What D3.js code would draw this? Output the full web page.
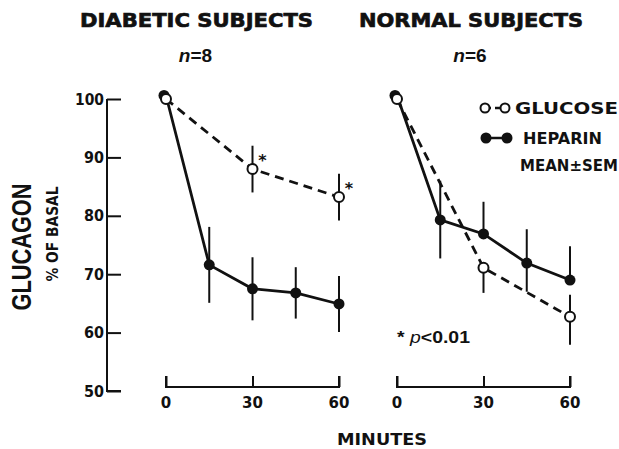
<!DOCTYPE html>
<html>
<head>
<meta charset="utf-8">
<script src="https://cdn.jsdelivr.net/npm/d3@7"></script>
<style>
  body { margin: 0; background: #fff; }
  text { font-family: "Liberation Sans", Arial, sans-serif; fill: #111; }
  .heavy { font-family: "DejaVu Sans", sans-serif; font-weight: bold; }
  .title { stroke: #111; stroke-width: 0.7px; }
</style>
</head>
<body>
<div id="chart"></div>
<script>
// values (glucagon, % of basal)
var panels = ["DIABETIC SUBJECTS", "NORMAL SUBJECTS"];
var nLabels = ["8", "6"];
var glucoseTimes = [0, 30, 60];
var heparinTimes = [0, 15, 30, 45, 60];
var yTicks = [50, 60, 70, 80, 90, 100];
var xTicks = [0, 30, 60];

// diabetic
var diabGlucose = [100, 88, 83.2];
var diabGlucoseUp = [0, 4, 4];
var diabGlucoseDown = [0, 4, 4];
var diabGlucoseSig = [false, true, true];
var diabHeparin = [100.6, 71.6, 67.5, 66.8, 64.9];
var diabHeparinUp = [0, 6.5, 5.4, 4.4, 4.8];
var diabHeparinDown = [0, 6.5, 5.4, 4.4, 4.8];

// normal
var normGlucose = [100, 71.1, 62.7];
var normGlucoseUp = [0, 0, 3.8];
var normGlucoseDown = [0, 4.3, 4.8];
var normGlucoseSig = [false, false, false];
var normHeparin = [100.6, 79.3, 76.9, 71.9, 69];
var normHeparinUp = [0, 6.7, 5.5, 5.8, 5.8];
var normHeparinDown = [0, 6.6, 0, 4.9, 0];

var GC = {};

GC.series = function(times, vals, up, down, sig) {
    return times.map(function(t, i) {
        return {t: t, v: vals[i], up: up[i], down: down[i], sig: sig ? sig[i] : false};
    });
};

GC.draw = function() {
    let width = 619, height = 449;
    let svg = d3.select("#chart").append("svg")
        .attr("width", width)
        .attr("height", height);

    let y = d3.scaleLinear().domain([50, 100]).range([391, 99]);
    let xs = [
        d3.scaleLinear().domain([0, 60]).range([166, 339]),
        d3.scaleLinear().domain([0, 60]).range([397, 570])
    ];

    let data = [
        {
            glucose: GC.series(glucoseTimes, diabGlucose, diabGlucoseUp, diabGlucoseDown, diabGlucoseSig),
            heparin: GC.series(heparinTimes, diabHeparin, diabHeparinUp, diabHeparinDown)
        },
        {
            glucose: GC.series(glucoseTimes, normGlucose, normGlucoseUp, normGlucoseDown, normGlucoseSig),
            heparin: GC.series(heparinTimes, normHeparin, normHeparinUp, normHeparinDown)
        }
    ];

    // y axis (ticks point inward)
    let yAxis = svg.append("g")
        .attr("transform", "translate(107,0)")
        .call(d3.axisRight(y).tickValues(yTicks).tickSize(14).tickFormat(""));
    yAxis.select(".domain").attr("d", "M0," + y(100) + "V" + y(50) + "H14");
    yAxis.selectAll("line, path").attr("stroke", "#111").attr("stroke-width", 2);

    svg.append("g").selectAll("text")
        .data(yTicks)
        .enter().append("text")
        .attr("class", "heavy")
        .attr("x", 104)
        .attr("y", (d) => y(d) + 5.5)
        .attr("text-anchor", "end")
        .attr("textLength", (d) => d === 100 ? 29 : 20)
        .attr("lengthAdjust", "spacingAndGlyphs")
        .style("font-size", "15px")
        .text((d) => d);

    // y labels
    svg.append("text")
        .attr("transform", "translate(31,247) rotate(-90)")
        .attr("text-anchor", "middle")
        .attr("textLength", 127)
        .attr("lengthAdjust", "spacingAndGlyphs")
        .style("font-size", "27px")
        .style("font-weight", "bold")
        .text("GLUCAGON");
    svg.append("text")
        .attr("class", "heavy")
        .attr("transform", "translate(58,234) rotate(-90)")
        .attr("text-anchor", "middle")
        .attr("textLength", 95)
        .attr("lengthAdjust", "spacingAndGlyphs")
        .style("font-size", "15px")
        .text("% OF BASAL");

    let line = function(x) {
        return d3.line().x((d) => x(d.t)).y((d) => y(d.v));
    };

    let titleSpan = [[80, 313], [359, 583]];

    data.forEach(function(p, k) {
        let x = xs[k];
        let g = svg.append("g");

        // title + n
        g.append("text")
            .attr("class", "heavy title")
            .attr("x", titleSpan[k][0])
            .attr("y", 27)
            .attr("textLength", titleSpan[k][1] - titleSpan[k][0])
            .attr("lengthAdjust", "spacingAndGlyphs")
            .style("font-size", "20px")
            .text(panels[k]);
        let nt = g.append("text")
            .attr("x", (titleSpan[k][0] + titleSpan[k][1]) / 2 - 1)
            .attr("y", 62)
            .attr("text-anchor", "middle")
            .style("font-size", "19px")
            .style("font-weight", "bold");
        nt.append("tspan").style("font-style", "italic").text("n");
        nt.append("tspan").text("=" + nLabels[k]);

        // bracket x axis
        let xa = g.append("g")
            .attr("transform", "translate(0,387)")
            .call(d3.axisTop(x).tickValues(xTicks).tickSize(11).tickFormat(""));
        xa.select(".domain").attr("d", "M" + x(0) + ",-11V0H" + x(60) + "V-11");
        xa.selectAll("line, path").attr("stroke", "#111").attr("stroke-width", 2);
        g.append("g").selectAll("text")
            .data(xTicks)
            .enter().append("text")
            .attr("class", "heavy")
            .attr("x", (d) => x(d))
            .attr("y", 408)
            .attr("text-anchor", "middle")
            .style("font-size", "15px")
            .text((d) => d);

        // error bars
        let bars = p.heparin.concat(p.glucose).filter((d) => d.up > 0 || d.down > 0);
        g.append("g").selectAll("line")
            .data(bars)
            .enter().append("line")
            .attr("x1", (d) => x(d.t))
            .attr("x2", (d) => x(d.t))
            .attr("y1", (d) => y(d.v + d.up))
            .attr("y2", (d) => y(d.v - d.down))
            .attr("stroke", "#111")
            .attr("stroke-width", 2);

        // lines
        g.append("path")
            .datum(p.heparin)
            .attr("d", line(x))
            .attr("fill", "none")
            .attr("stroke", "#111")
            .attr("stroke-width", 2.8);
        g.append("path")
            .datum(p.glucose)
            .attr("d", line(x))
            .attr("fill", "none")
            .attr("stroke", "#111")
            .attr("stroke-width", 2.8)
            .attr("stroke-dasharray", "9,6");

        // points
        g.append("g").selectAll("circle")
            .data(p.heparin)
            .enter().append("circle")
            .attr("cx", (d) => x(d.t) - (d.t === 0 ? 2 : 0))
            .attr("cy", (d) => y(d.v))
            .attr("r", 5.5)
            .style("fill", "#111");
        g.append("g").selectAll("circle")
            .data(p.glucose)
            .enter().append("circle")
            .attr("cx", (d) => x(d.t))
            .attr("cy", (d) => y(d.v))
            .attr("r", 5)
            .style("fill", "#fff")
            .attr("stroke", "#111")
            .attr("stroke-width", 2);

        // significance stars
        g.append("g").selectAll("text")
            .data(p.glucose.filter((d) => d.sig))
            .enter().append("text")
            .attr("class", "heavy")
            .attr("x", (d) => x(d.t) + 10)
            .attr("y", (d) => y(d.v) - 3)
            .attr("text-anchor", "middle")
            .style("font-size", "16px")
            .text("*");
    });

    // legend
    let lg = svg.append("g");
    lg.append("line").attr("x1", 485).attr("x2", 505).attr("y1", 108).attr("y2", 108)
        .attr("stroke", "#111").attr("stroke-width", 2.5).attr("stroke-dasharray", "6,4");
    lg.selectAll("circle.o").data([485, 505]).enter().append("circle")
        .attr("cx", (d) => d).attr("cy", 108).attr("r", 4.5)
        .style("fill", "#fff").attr("stroke", "#111").attr("stroke-width", 2);
    lg.append("line").attr("x1", 486).attr("x2", 507).attr("y1", 138).attr("y2", 138)
        .attr("stroke", "#111").attr("stroke-width", 2.5);
    lg.selectAll("circle.f").data([486, 507]).enter().append("circle")
        .attr("cx", (d) => d).attr("cy", 138).attr("r", 5.5)
        .style("fill", "#111");
    lg.append("text").attr("class", "heavy").attr("x", 515).attr("y", 114)
        .attr("textLength", 103).attr("lengthAdjust", "spacingAndGlyphs")
        .style("font-size", "16px").text("GLUCOSE");
    lg.append("text").attr("class", "heavy").attr("x", 523).attr("y", 144)
        .attr("textLength", 79).attr("lengthAdjust", "spacingAndGlyphs")
        .style("font-size", "16px").text("HEPARIN");
    lg.append("text").attr("class", "heavy").attr("x", 520).attr("y", 171)
        .attr("textLength", 98).attr("lengthAdjust", "spacingAndGlyphs")
        .style("font-size", "15px").text("MEAN±SEM");

    // p note
    let pn = svg.append("text").attr("x", 397).attr("y", 343)
        .attr("textLength", 73).attr("lengthAdjust", "spacingAndGlyphs")
        .style("font-size", "17px").style("font-weight", "bold");
    pn.append("tspan").text("* ");
    pn.append("tspan").style("font-style", "italic").style("font-weight", "normal").text("p");
    pn.append("tspan").text("<0.01");

    // x title
    svg.append("text")
        .attr("class", "heavy")
        .attr("x", 382)
        .attr("y", 445)
        .attr("text-anchor", "middle")
        .attr("textLength", 90)
        .attr("lengthAdjust", "spacingAndGlyphs")
        .style("font-size", "15px")
        .text("MINUTES");
};

GC.draw();
</script>
</body>
</html>
